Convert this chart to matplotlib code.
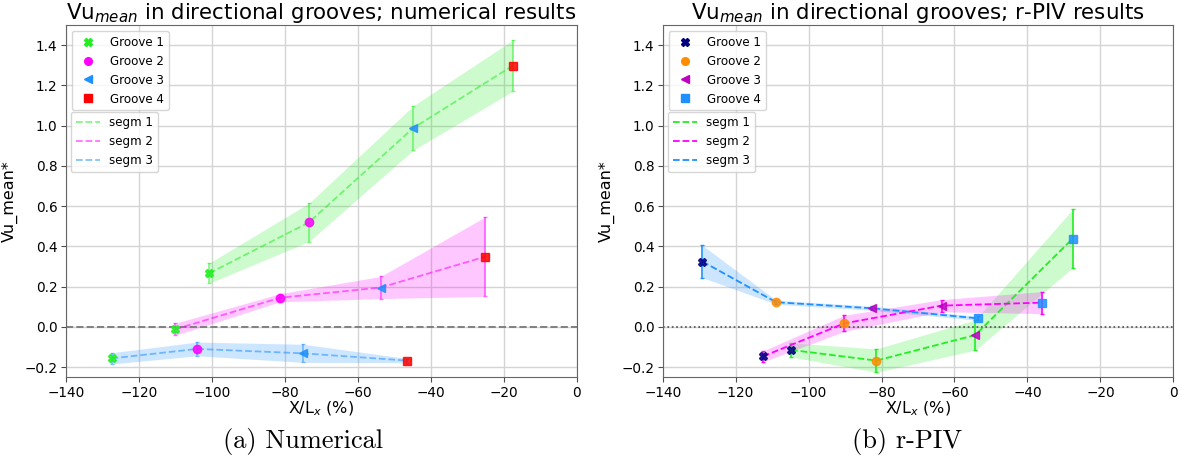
import numpy as np
import matplotlib.pyplot as plt
from matplotlib.lines import Line2D

# Numerical results: x position (% of L_x), mean value and error per segment
num_x_seg1 = [-100.7, -73.4, -44.8, -17.5]
num_y_seg1 = [0.267, 0.519, 0.988, 1.298]
num_e_seg1 = [0.050, 0.095, 0.110, 0.127]

num_x_seg2 = [-110.1, -81.3, -53.7, -25.1]
num_y_seg2 = [-0.012, 0.145, 0.196, 0.349]
num_e_seg2 = [0.030, 0.020, 0.055, 0.197]

num_x_seg3 = [-127.4, -104.0, -74.9, -46.4]
num_y_seg3 = [-0.156, -0.109, -0.131, -0.167]
num_e_seg3 = [0.028, 0.034, 0.045, 0.010]

# r-PIV results
piv_x_seg1 = [-104.8, -81.4, -54.3, -27.6]
piv_y_seg1 = [-0.114, -0.167, -0.040, 0.439]
piv_e_seg1 = [0.035, 0.058, 0.075, 0.145]

piv_x_seg2 = [-112.5, -90.2, -63.5, -35.9]
piv_y_seg2 = [-0.146, 0.018, 0.106, 0.121]
piv_e_seg2 = [0.027, 0.040, 0.030, 0.055]

piv_x_seg3 = [-129.1, -108.9, -82.7, -53.6]
piv_y_seg3 = [0.325, 0.123, 0.093, 0.043]
piv_e_seg3 = [0.080, 0.010, 0.010, 0.010]

grooves = ["Groove 1", "Groove 2", "Groove 3", "Groove 4"]
segments = ["segm 1", "segm 2", "segm 3"]
markers = ["X", "o", "<", "s"]
seg_colors = ["#22ee22", "magenta", "dodgerblue"]

num_groove_colors = ["#22ee22", "magenta", "dodgerblue", "red"]
piv_groove_colors = ["navy", "darkorange", "m", "dodgerblue"]


def draw_panel(ax, segs, groove_colors, line_alpha, title, zero_style):
    ax.grid(True, color="#d4d4d4", lw=1, zorder=0)
    ax.set_axisbelow(True)
    for i, (x, y, e) in enumerate(segs):
        x = np.array(x)
        y = np.array(y)
        e = np.array(e)
        c = seg_colors[i]
        ax.fill_between(x, y - e, y + e, color=c, alpha=0.22, lw=0, zorder=1)
        ax.errorbar(x, y, yerr=e, color=c, ls="--", lw=1.3, alpha=line_alpha,
                    capsize=1.5, elinewidth=1.2, zorder=2)
        for j in range(len(x)):
            ax.plot(x[j], y[j], marker=markers[j], color=groove_colors[j],
                    ms=6, ls="none", zorder=3, alpha=0.85)
    ax.axhline(0, color=zero_style[0], ls=zero_style[1], lw=zero_style[2], zorder=1.5)

    ax.set_xlim(-140, 0)
    ax.set_ylim(-0.25, 1.5)
    ax.set_xticks(np.arange(-140, 1, 20))
    ax.set_yticks(np.arange(-0.2, 1.41, 0.2))
    ax.tick_params(labelsize=9.8, color="0.3", pad=2.5)
    for s in ax.spines.values():
        s.set_color("0.4")
    ax.set_title(title, fontsize=15.4, pad=3)
    ax.set_xlabel("X/L$_x$ (%)", fontsize=11.5, labelpad=0)
    ax.set_ylabel("Vu_mean*", fontsize=11.5)
    ax.yaxis.set_label_coords(-0.093, 0.5)

    h1 = [Line2D([], [], marker=markers[j], color=groove_colors[j], ls="none", ms=5.5)
          for j in range(4)]
    leg1 = ax.legend(h1, grooves, loc="upper left", bbox_to_anchor=(0.0, 1.0),
                     fontsize=8.6, framealpha=0.8, borderaxespad=0.5)
    ax.add_artist(leg1)
    h2 = [Line2D([], [], color=seg_colors[i], ls="--", lw=1.3, alpha=line_alpha)
          for i in range(3)]
    ax.legend(h2, segments, loc="upper left", bbox_to_anchor=(0.0104, 0.754),
              fontsize=8.6, framealpha=0.8, borderaxespad=0.0)


fig = plt.figure(figsize=(11.84, 4.65), dpi=100)
ax1 = fig.add_axes([0.0555, 0.1886, 0.4316, 0.7577])
ax2 = fig.add_axes([0.5597, 0.1886, 0.4313, 0.7577])

draw_panel(ax1,
           [(num_x_seg1, num_y_seg1, num_e_seg1),
            (num_x_seg2, num_y_seg2, num_e_seg2),
            (num_x_seg3, num_y_seg3, num_e_seg3)],
           num_groove_colors, 0.55,
           "Vu$_{mean}$ in directional grooves; numerical results",
           ("gray", "--", 1.4))
draw_panel(ax2,
           [(piv_x_seg1, piv_y_seg1, piv_e_seg1),
            (piv_x_seg2, piv_y_seg2, piv_e_seg2),
            (piv_x_seg3, piv_y_seg3, piv_e_seg3)],
           piv_groove_colors, 1.0,
           "Vu$_{mean}$ in directional grooves; r-PIV results",
           ("0.3", ":", 1.2))

fig.text(303 / 1184, 0.05, "(a) Numerical", family="cmr10", fontsize=19, ha="center", va="center")
fig.text(907 / 1184, 0.05, "(b) r-PIV", family="cmr10", fontsize=19, ha="center", va="center")

fig.savefig("out.png", dpi=100)
